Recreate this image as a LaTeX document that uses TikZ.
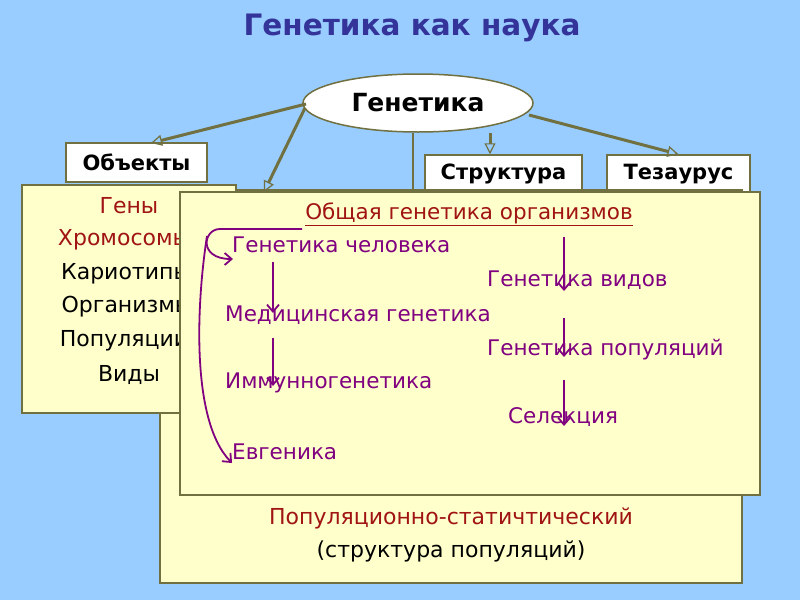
\documentclass[tikz,border=0pt]{standalone}
\usepackage{fontspec}
\setmainfont{DejaVu Sans}
\usetikzlibrary{arrows.meta,shapes.geometric}
\definecolor{bg}{RGB}{153,204,255}
\definecolor{ttl}{RGB}{51,51,153}
\definecolor{olv}{RGB}{112,112,64}
\definecolor{ylw}{RGB}{255,255,204}
\definecolor{rd}{RGB}{160,20,20}
\definecolor{prp}{RGB}{128,0,128}
\tikzset{
  lbl/.style={draw=olv, line width=1.5pt, fill=white, font=\fontsize{21}{24}\selectfont\bfseries, inner sep=0pt},
  lbltxt/.style={font=\fontsize{21}{24}\selectfont\bfseries, inner sep=0pt},
  ybox/.style={draw=olv, line width=1.5pt, fill=ylw, inner sep=0pt},
  oarr/.style={draw=olv, line width=3pt, -{Triangle[open, length=11pt, width=11pt, line width=1.2pt]}},
  oline/.style={draw=olv, line width=2pt},
  parr/.style={draw=prp, line width=1.8pt, -{Straight Barb[length=7pt, width=12pt, line width=1.8pt]}},
  ptxt/.style={text=prp, font=\fontsize{21.5}{24}\selectfont, anchor=west, inner sep=0pt},
  ltxt/.style={font=\fontsize{22}{24}\selectfont, inner sep=0pt},
}
\begin{document}
\begin{tikzpicture}[x=1pt,y=-1pt]
\useasboundingbox[fill=bg] (0,0) rectangle (800,600);
\node[text=ttl, font=\fontsize{29.5}{33}\selectfont\bfseries] (title) at (412,28) {Генетика как наука};
\node[ellipse, draw=olv, line width=1.5pt, fill=white, minimum width=230pt, minimum height=58pt, inner sep=0pt, font=\fontsize{25}{28}\selectfont\bfseries] (gen) at (418,103) {Генетика};
% connectors
\coordinate (backtop) at (264,192);
\coordinate (vbot) at (413,195);
\draw[oline] (gen.south -| vbot) -- (vbot);
\node[lbl, minimum width=141pt, minimum height=39pt] (obj) at (136.5,162.5) {Объекты};
\node[lbl, minimum width=157pt, minimum height=42pt] (str) at (503.5,176) {};
\node[lbl, minimum width=143pt, minimum height=42pt] (tez) at (678.5,176) {};
\node[lbltxt] (strt) at (503.5,174) {Структура};
\node[lbltxt] (tezt) at (678.5,174) {Тезаурус};
\draw[oarr] (306,104) -- (151,143);
\draw[oarr] (305,108) -- (backtop);
\draw[oarr] (490,133) -- (str.north -| 490,0);
\draw[oarr] (529,115) -- (tez.north);
% back box
\node[ybox, minimum width=582pt, minimum height=393pt] (back) at (451,386.5) {};
\node[ltxt, text=rd] (pop) at (451,518) {Популяционно-статичтический};
\node[ltxt] (strp) at (451,551) {(структура популяций)};
% left box
\node[ybox, minimum width=214pt, minimum height=228pt] (left) at (129,299) {};
\node[ltxt, text=rd] (g1) at (129,206) {Гены};
\node[ltxt, text=rd] (g2) at (124,240) {Хромосомы};
\node[ltxt] (g3) at (126,274) {Кариотипы};
\node[ltxt] (g4) at (127,307) {Организмы};
\node[ltxt] (g5) at (124,341) {Популяции};
\node[ltxt] (g6) at (129,375) {Виды};
% front box
\node[ybox, minimum width=580pt, minimum height=303pt] (front) at (470,343.5) {};
\node[text=rd, font=\fontsize{21.5}{24}\selectfont, inner sep=0pt] (oga) at (469,214) {\underline{Общая генетика организмов}};
\node[ptxt] (gch) at (232,245) {Генетика человека};
\node[ptxt] (gvd) at (487,280) {Генетика видов};
\node[ptxt] (med) at (225,315) {Медицинская генетика};
\node[ptxt] (gpp) at (487,350) {Генетика популяций};
\node[ptxt] (imm) at (225,383) {Иммунногенетика};
\node[ptxt] (sel) at (508,417) {Селекция};
\node[ptxt] (evg) at (232,452) {Евгеника};
\coordinate (a1) at (273,262); \coordinate (a2) at (273,313);
\coordinate (a3) at (273,338); \coordinate (a4) at (273,386);
\coordinate (b1) at (564,237); \coordinate (b2) at (564,291);
\coordinate (b3) at (564,318); \coordinate (b4) at (564,357);
\coordinate (b5) at (564,380); \coordinate (b6) at (564,426);
\draw[parr] (a1) -- (a2);
\draw[parr] (a3) -- (a4);
\draw[parr] (b1) -- (b2);
\draw[parr] (b3) -- (b4);
\draw[parr] (b5) -- (b6);
\coordinate (c0) at (302,229);
\coordinate (c1) at (233,259);
\coordinate (c2) at (232,463);
\draw[parr] (c0) -- (220,229) .. controls (203,229) and (198,259) .. (c1);
\draw[parr] (207,236) .. controls (197,300) and (190,420) .. (c2);
\end{tikzpicture}
\end{document}
